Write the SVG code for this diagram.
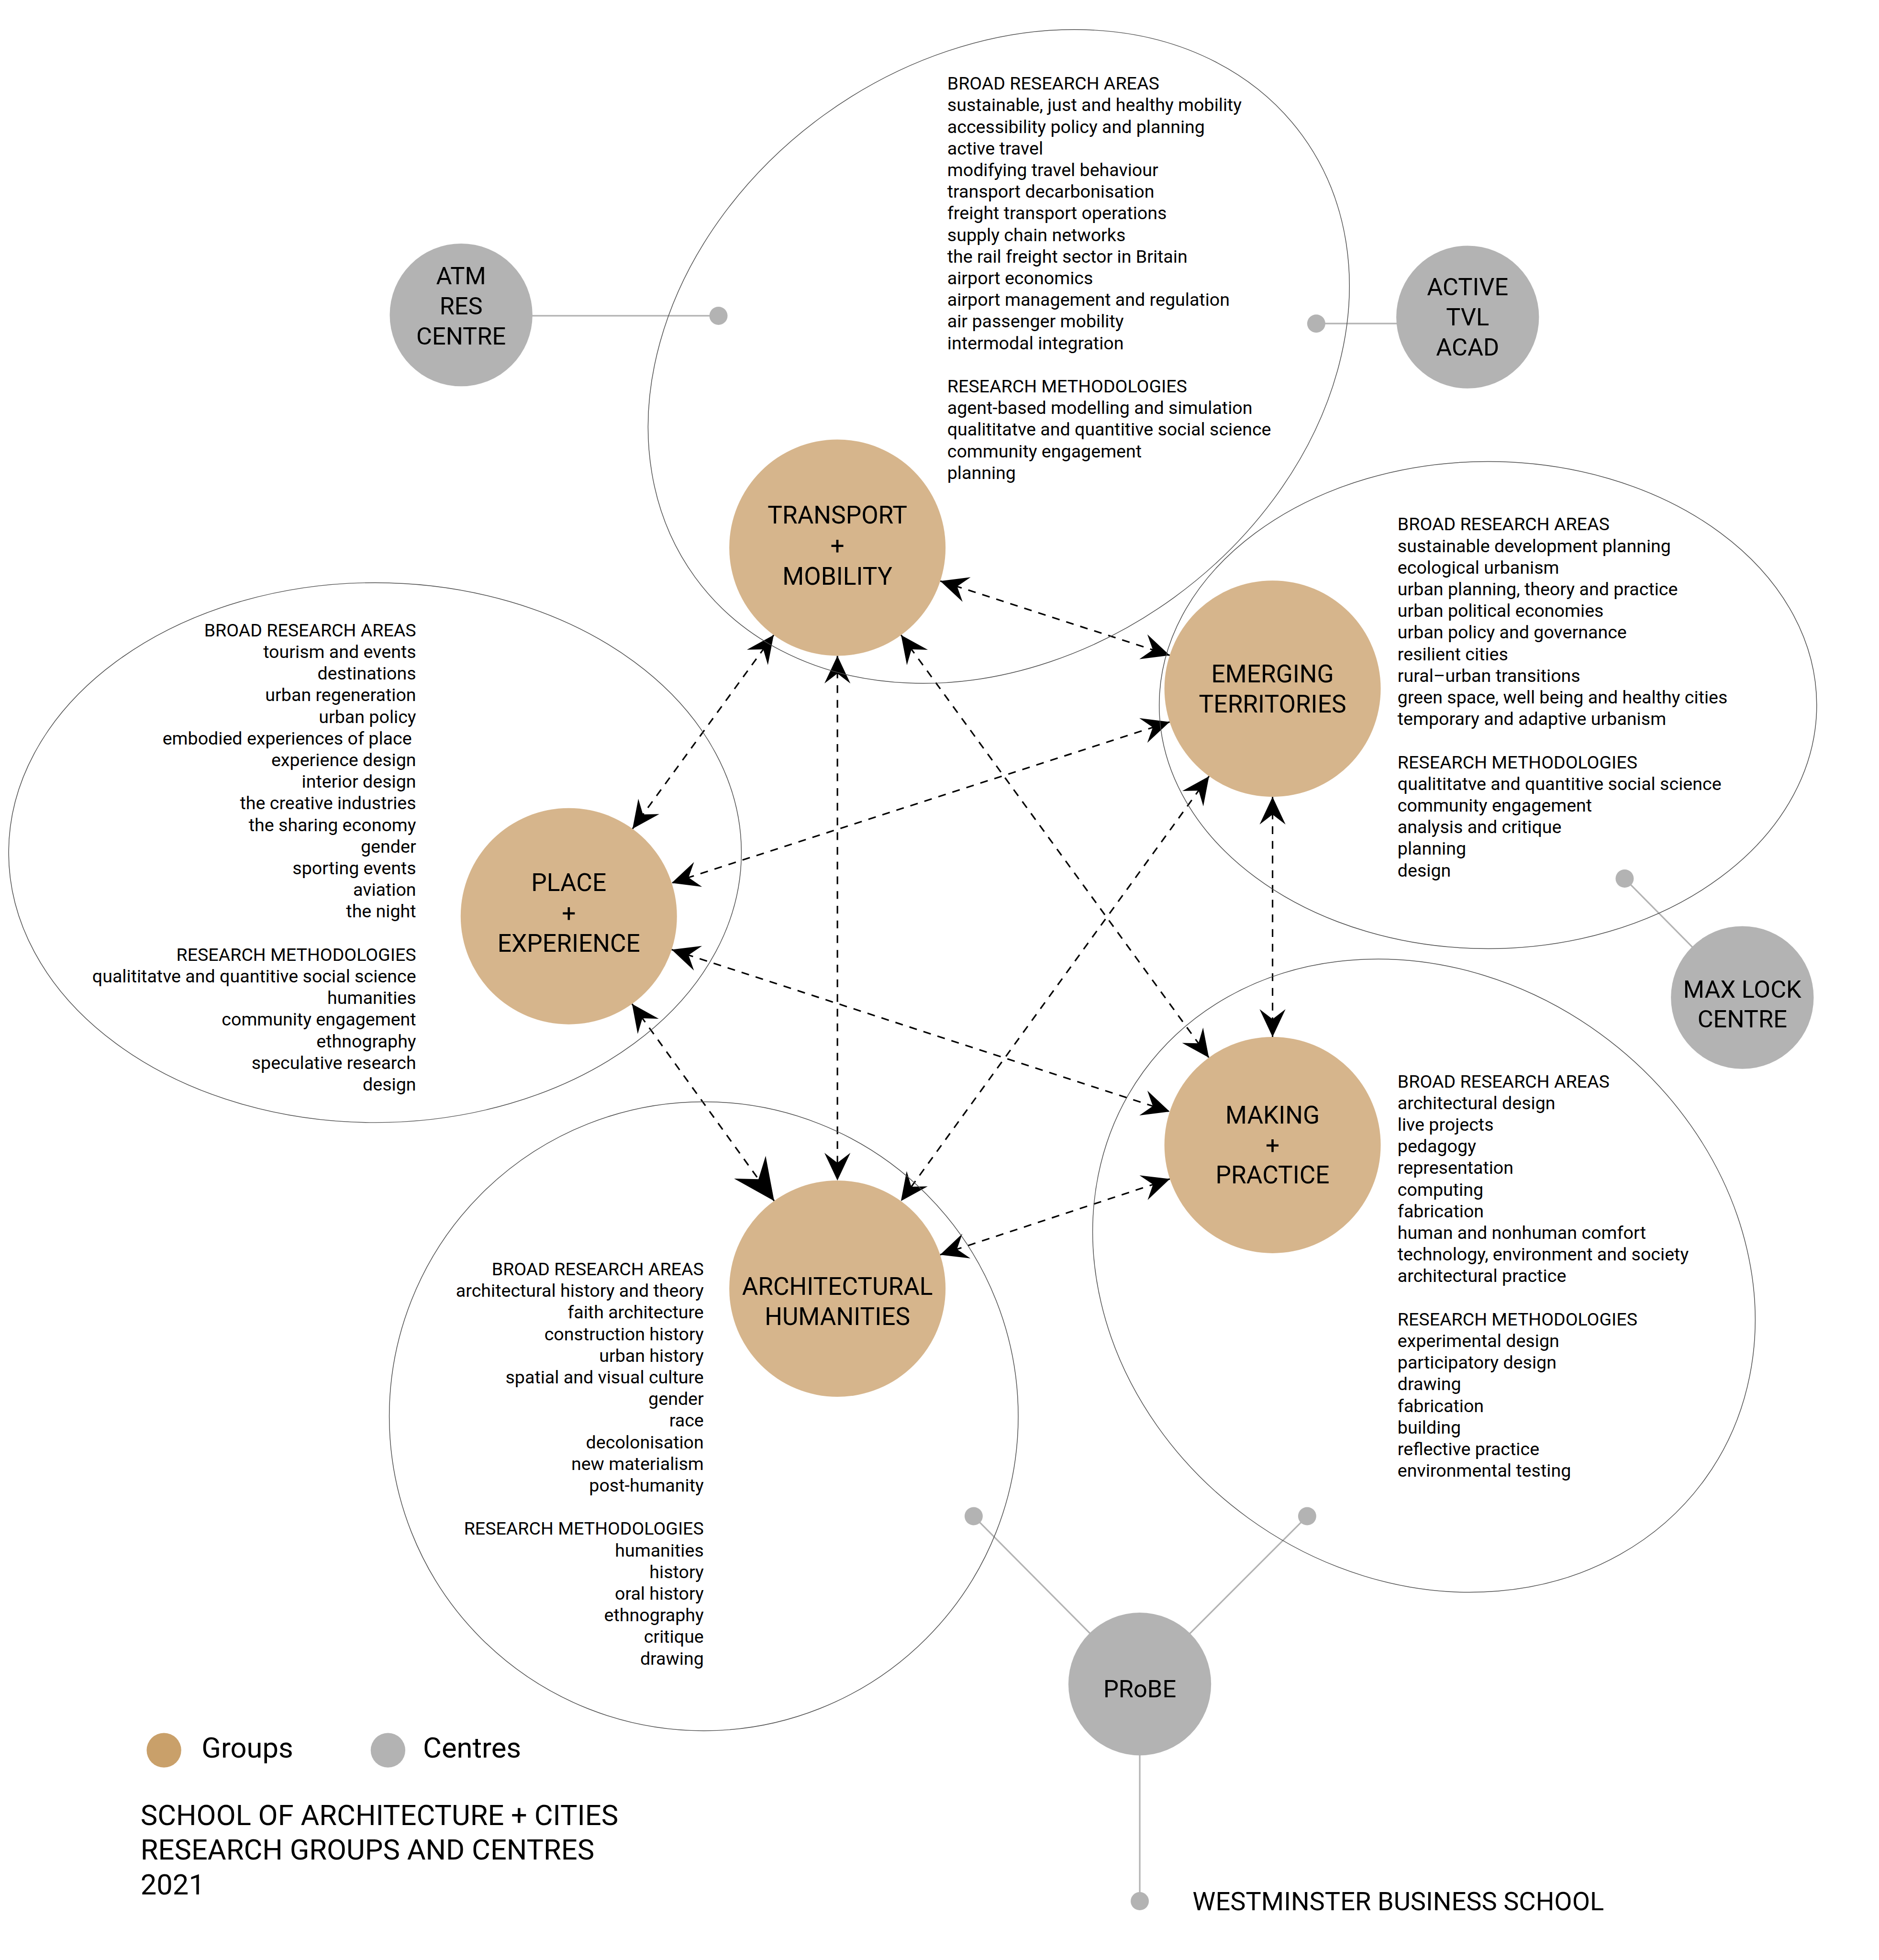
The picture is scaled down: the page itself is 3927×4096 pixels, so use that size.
<svg xmlns="http://www.w3.org/2000/svg" width="3927" height="4096" viewBox="0 0 3927 4096">
<style>
.ell{fill:none;stroke:#4d4d4d;stroke-width:1.6}
.grp{fill:#D6B58C}
.ctr{fill:#B3B3B3}
.gl{stroke:#B3B3B3;stroke-width:3.5;fill:none}
.dot{fill:#B3B3B3}
.arr{stroke:#000;stroke-width:3.5;stroke-dasharray:18 16;fill:none;marker-start:url(#ah);marker-end:url(#ah)}
.body{font-family:Roboto,"Liberation Sans",sans-serif;font-size:41.6px;fill:#000}
.lbl{font-family:Roboto,"Liberation Sans",sans-serif;font-size:57px;fill:#000;text-anchor:middle}
.big{font-family:Roboto,"Liberation Sans",sans-serif;font-size:66px;fill:#000}
</style>
<defs>
<marker id="ah" viewBox="-70 -35 75 70" markerWidth="75" markerHeight="70" refX="0" refY="0" orient="auto-start-reverse" markerUnits="userSpaceOnUse"><path d="M0,0 L-64,-30 L-41,0 L-64,30 Z" fill="#000" stroke="none"/></marker>
<marker id="ahL" viewBox="-100 -50 105 100" markerWidth="105" markerHeight="100" refX="0" refY="0" orient="auto-start-reverse" markerUnits="userSpaceOnUse"><path d="M0,0 L-96,-45 L-62,0 L-96,45 Z" fill="#000" stroke="none"/></marker>
</defs>
<rect width="3927" height="4096" fill="#fff"/>
<g transform="scale(0.904)">
<g id="connectors">
<line class="gl" x1="1066" y1="730" x2="1661" y2="730"/>
<circle class="dot" cx="1661" cy="730" r="21"/>
<line class="gl" x1="3395" y1="748" x2="3043" y2="748"/>
<circle class="dot" cx="3043" cy="748" r="21"/>
<line class="gl" x1="4028" y1="2306" x2="3756" y2="2031"/>
<circle class="dot" cx="3756" cy="2031" r="21"/>
<line class="gl" x1="2635" y1="3892" x2="2251" y2="3505"/>
<circle class="dot" cx="2251" cy="3505" r="21"/>
<line class="gl" x1="2635" y1="3892" x2="3022" y2="3505"/>
<circle class="dot" cx="3022" cy="3505" r="21"/>
<line class="gl" x1="2635" y1="3892" x2="2635" y2="4395"/>
<circle class="dot" cx="2635" cy="4395" r="21"/>
<line class="arr" x1="2173.8" y1="1343.1" x2="2704.2" y2="1514.9"/>
<line class="arr" x1="1788.7" y1="1468" x2="1462.3" y2="1916"/>
<line class="arr" x1="1936" y1="1516" x2="1936" y2="2729"/>
<line class="arr" x1="2083.2" y1="1468.1" x2="2794.8" y2="2444.9"/>
<line class="arr" x1="2704.1" y1="1668.9" x2="1552.9" y2="2041.1"/>
<line class="arr" x1="2795.2" y1="1794.4" x2="2082.8" y2="2776.6"/>
<line class="arr" x1="2942" y1="1842" x2="2942" y2="2397"/>
<line class="arr" x1="1552.8" y1="2195.3" x2="2704.2" y2="2569.7"/>
<line class="arr" x1="1461.2" y1="2320.8" x2="1789.8" y2="2776.2" style="marker-end:url(#ahL)"/>
<line class="arr" x1="2173.4" y1="2900.6" x2="2704.6" y2="2725.4"/>
</g>
<g id="transport">
<ellipse class="ell" cx="2309" cy="824" rx="868" ry="689" transform="rotate(-36 2309 824)"/>
<circle class="grp" cx="1936" cy="1266" r="250"/>
<text class="lbl"><tspan x="1936" y="1210">TRANSPORT</tspan><tspan x="1936" y="1281">+</tspan><tspan x="1936" y="1352">MOBILITY</tspan></text>
<text class="body"><tspan x="2190" y="207">BROAD RESEARCH AREAS</tspan><tspan x="2190" dy="50">sustainable, just and healthy mobility</tspan><tspan x="2190" dy="50">accessibility policy and planning</tspan><tspan x="2190" dy="50">active travel</tspan><tspan x="2190" dy="50">modifying travel behaviour</tspan><tspan x="2190" dy="50">transport decarbonisation</tspan><tspan x="2190" dy="50">freight transport operations</tspan><tspan x="2190" dy="50">supply chain networks</tspan><tspan x="2190" dy="50">the rail freight sector in Britain</tspan><tspan x="2190" dy="50">airport economics</tspan><tspan x="2190" dy="50">airport management and regulation</tspan><tspan x="2190" dy="50">air passenger mobility</tspan><tspan x="2190" dy="50">intermodal integration</tspan><tspan x="2190" dy="100">RESEARCH METHODOLOGIES</tspan><tspan x="2190" dy="50">agent-based modelling and simulation</tspan><tspan x="2190" dy="50">qualititatve and quantitive social science</tspan><tspan x="2190" dy="50">community engagement</tspan><tspan x="2190" dy="50">planning</tspan></text>
</g>
<g id="emerging">
<ellipse class="ell" cx="3440" cy="1630" rx="760" ry="563"/>
<circle class="grp" cx="2942" cy="1592" r="250"/>
<text class="lbl"><tspan x="2942" y="1577">EMERGING</tspan><tspan x="2942" y="1647">TERRITORIES</tspan></text>
<text class="body"><tspan x="3231" y="1226">BROAD RESEARCH AREAS</tspan><tspan x="3231" dy="50">sustainable development planning</tspan><tspan x="3231" dy="50">ecological urbanism</tspan><tspan x="3231" dy="50">urban planning, theory and practice</tspan><tspan x="3231" dy="50">urban political economies</tspan><tspan x="3231" dy="50">urban policy and governance</tspan><tspan x="3231" dy="50">resilient cities</tspan><tspan x="3231" dy="50">rural–urban transitions</tspan><tspan x="3231" dy="50">green space, well being and healthy cities</tspan><tspan x="3231" dy="50">temporary and adaptive urbanism</tspan><tspan x="3231" dy="100">RESEARCH METHODOLOGIES</tspan><tspan x="3231" dy="50">qualititatve and quantitive social science</tspan><tspan x="3231" dy="50">community engagement</tspan><tspan x="3231" dy="50">analysis and critique</tspan><tspan x="3231" dy="50">planning</tspan><tspan x="3231" dy="50">design</tspan></text>
</g>
<g id="place">
<ellipse class="ell" cx="867" cy="1971" rx="847" ry="624"/>
<circle class="grp" cx="1315" cy="2118" r="250"/>
<text class="lbl"><tspan x="1315" y="2060">PLACE</tspan><tspan x="1315" y="2130">+</tspan><tspan x="1315" y="2200">EXPERIENCE</tspan></text>
<text class="body" text-anchor="end"><tspan x="962" y="1471">BROAD RESEARCH AREAS</tspan><tspan x="962" dy="50">tourism and events</tspan><tspan x="962" dy="50">destinations</tspan><tspan x="962" dy="50">urban regeneration</tspan><tspan x="962" dy="50">urban policy</tspan><tspan x="952" dy="50">embodied experiences of place</tspan><tspan x="962" dy="50">experience design</tspan><tspan x="962" dy="50">interior design</tspan><tspan x="962" dy="50">the creative industries</tspan><tspan x="962" dy="50">the sharing economy</tspan><tspan x="962" dy="50">gender</tspan><tspan x="962" dy="50">sporting events</tspan><tspan x="962" dy="50">aviation</tspan><tspan x="962" dy="50">the night</tspan><tspan x="962" dy="100">RESEARCH METHODOLOGIES</tspan><tspan x="962" dy="50">qualititatve and quantitive social science</tspan><tspan x="962" dy="50">humanities</tspan><tspan x="962" dy="50">community engagement</tspan><tspan x="962" dy="50">ethnography</tspan><tspan x="962" dy="50">speculative research</tspan><tspan x="962" dy="50">design</tspan></text>
</g>
<g id="architectural">
<ellipse class="ell" cx="1627" cy="3274" rx="727" ry="727"/>
<circle class="grp" cx="1936" cy="2979" r="250"/>
<text class="lbl"><tspan x="1936" y="2993">ARCHITECTURAL</tspan><tspan x="1936" y="3063">HUMANITIES</tspan></text>
<text class="body" text-anchor="end"><tspan x="1627" y="2948">BROAD RESEARCH AREAS</tspan><tspan x="1627" dy="50">architectural history and theory</tspan><tspan x="1627" dy="50">faith architecture</tspan><tspan x="1627" dy="50">construction history</tspan><tspan x="1627" dy="50">urban history</tspan><tspan x="1627" dy="50">spatial and visual culture</tspan><tspan x="1627" dy="50">gender</tspan><tspan x="1627" dy="50">race</tspan><tspan x="1627" dy="50">decolonisation</tspan><tspan x="1627" dy="50">new materialism</tspan><tspan x="1627" dy="50">post-humanity</tspan><tspan x="1627" dy="100">RESEARCH METHODOLOGIES</tspan><tspan x="1627" dy="50">humanities</tspan><tspan x="1627" dy="50">history</tspan><tspan x="1627" dy="50">oral history</tspan><tspan x="1627" dy="50">ethnography</tspan><tspan x="1627" dy="50">critique</tspan><tspan x="1627" dy="50">drawing</tspan></text>
</g>
<g id="making">
<ellipse class="ell" cx="3292" cy="2949" rx="802" ry="692" transform="rotate(36 3292 2949)"/>
<circle class="grp" cx="2942" cy="2647" r="250"/>
<text class="lbl"><tspan x="2942" y="2597">MAKING</tspan><tspan x="2942" y="2667">+</tspan><tspan x="2942" y="2736">PRACTICE</tspan></text>
<text class="body"><tspan x="3231" y="2514">BROAD RESEARCH AREAS</tspan><tspan x="3231" dy="50">architectural design</tspan><tspan x="3231" dy="50">live projects</tspan><tspan x="3231" dy="50">pedagogy</tspan><tspan x="3231" dy="50">representation</tspan><tspan x="3231" dy="50">computing</tspan><tspan x="3231" dy="50">fabrication</tspan><tspan x="3231" dy="50">human and nonhuman comfort</tspan><tspan x="3231" dy="50">technology, environment and society</tspan><tspan x="3231" dy="50">architectural practice</tspan><tspan x="3231" dy="100">RESEARCH METHODOLOGIES</tspan><tspan x="3231" dy="50">experimental design</tspan><tspan x="3231" dy="50">participatory design</tspan><tspan x="3231" dy="50">drawing</tspan><tspan x="3231" dy="50">fabrication</tspan><tspan x="3231" dy="50">building</tspan><tspan x="3231" dy="50">reflective practice</tspan><tspan x="3231" dy="50">environmental testing</tspan></text>
</g>
<g id="atm">
<circle class="ctr" cx="1066" cy="728" r="165"/>
<text class="lbl" style="font-size:56px"><tspan x="1066" y="657">ATM</tspan><tspan x="1066" y="727">RES</tspan><tspan x="1066" y="797">CENTRE</tspan></text>
</g>
<g id="active">
<circle class="ctr" cx="3393" cy="733" r="165"/>
<text class="lbl" style="font-size:56px"><tspan x="3393" y="682">ACTIVE</tspan><tspan x="3393" y="752">TVL</tspan><tspan x="3393" y="822">ACAD</tspan></text>
</g>
<g id="maxlock">
<circle class="ctr" cx="4028" cy="2306" r="165"/>
<text class="lbl" style="font-size:56px"><tspan x="4028" y="2306">MAX LOCK</tspan><tspan x="4028" y="2375">CENTRE</tspan></text>
</g>
<g id="probe">
<circle class="ctr" cx="2635" cy="3893" r="165"/>
<text class="lbl" style="font-size:56px" x="2635" y="3924">PRoBE</text>
</g>
<g id="wbs">
<text class="big" style="font-size:60px" x="2757" y="4416">WESTMINSTER BUSINESS SCHOOL</text>
</g>
<g id="legend">
<circle cx="379" cy="4046" r="40" fill="#C9A06A"/>
<text class="big" x="466" y="4063">Groups</text>
<circle cx="897" cy="4046" r="40" fill="#B3B3B3"/>
<text class="big" x="978" y="4063">Centres</text>
</g>
<g id="title">
<text class="big"><tspan x="325" y="4219">SCHOOL OF ARCHITECTURE + CITIES</tspan><tspan x="325" y="4299">RESEARCH GROUPS AND CENTRES</tspan><tspan x="325" y="4379">2021</tspan></text>
</g>
</g>
</svg>
